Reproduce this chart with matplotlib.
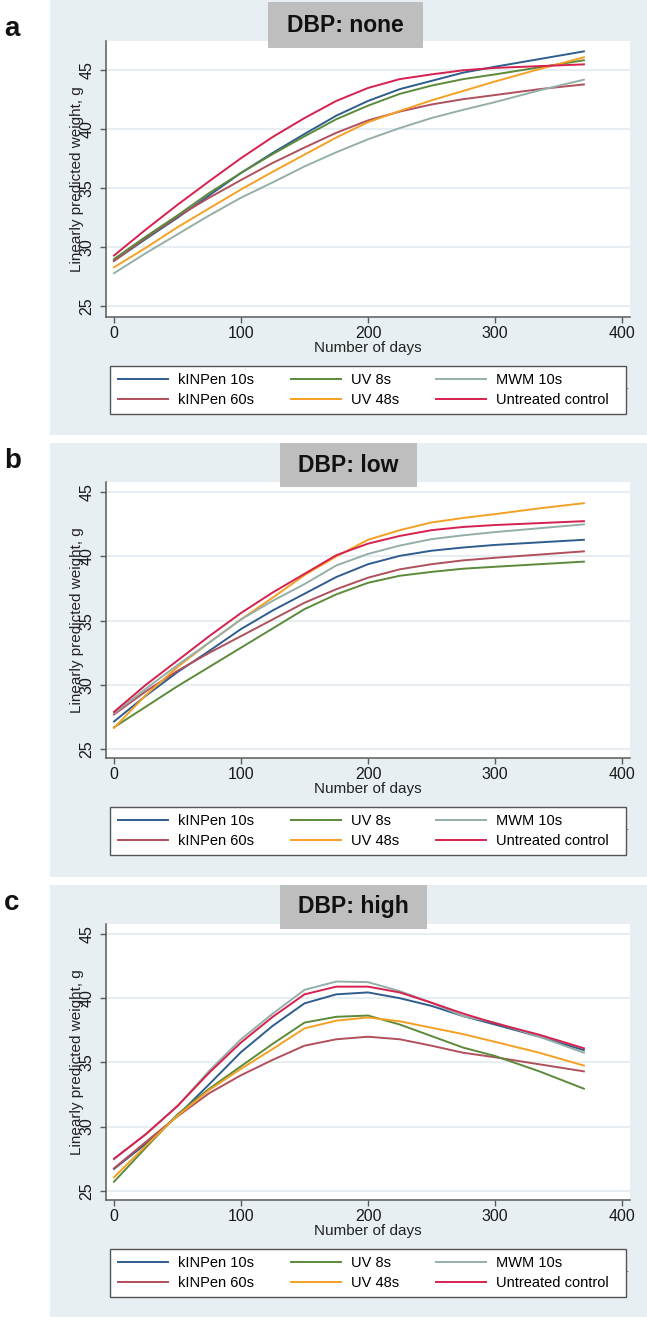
import matplotlib
matplotlib.use('Agg')
import matplotlib.pyplot as plt
from matplotlib.patches import Rectangle

plt.rcParams['font.family'] = ['Liberation Sans', 'DejaVu Sans']

# ---- data (days vs linearly predicted weight, g) ----
days = [0, 25, 50, 75, 100, 125, 150, 175, 200, 225, 250, 275, 300, 335, 370]
groups = ['kINPen 10s', 'kINPen 60s', 'UV 8s', 'UV 48s', 'MWM 10s', 'Untreated control']
colors = ['#2F5D8E', '#B0505C', '#5C8A3A', '#F4A024', '#93AFA8', '#D6204E']

# DBP: none
none_kinpen10 = [28.85, 30.7, 32.5, 34.4, 36.3, 38.0, 39.6, 41.15, 42.4, 43.4, 44.1, 44.8, 45.3, 45.95, 46.6]
none_kinpen60 = [28.85, 30.8, 32.6, 34.2, 35.7, 37.15, 38.45, 39.7, 40.75, 41.5, 42.1, 42.55, 42.9, 43.4, 43.8]
none_uv8 = [29.0, 30.9, 32.7, 34.6, 36.3, 37.9, 39.4, 40.85, 42.0, 43.0, 43.7, 44.25, 44.65, 45.25, 45.85]
none_uv48 = [28.3, 29.95, 31.7, 33.3, 34.9, 36.4, 37.85, 39.3, 40.6, 41.55, 42.45, 43.25, 44.05, 45.1, 46.1]
none_mwm10 = [27.8, 29.5, 31.1, 32.7, 34.2, 35.5, 36.85, 38.05, 39.15, 40.1, 40.95, 41.65, 42.3, 43.3, 44.2]
none_control = [29.3, 31.5, 33.6, 35.6, 37.55, 39.35, 40.95, 42.4, 43.5, 44.25, 44.65, 45.0, 45.2, 45.35, 45.5]

# DBP: low
low_kinpen10 = [27.15, 29.15, 31.0, 32.65, 34.35, 35.8, 37.1, 38.4, 39.4, 40.05, 40.45, 40.7, 40.9, 41.1, 41.3]
low_kinpen60 = [27.7, 29.5, 31.1, 32.5, 33.8, 35.1, 36.4, 37.45, 38.35, 39.0, 39.4, 39.7, 39.9, 40.15, 40.4]
low_uv8 = [26.7, 28.3, 29.9, 31.4, 32.9, 34.4, 35.9, 37.05, 37.95, 38.5, 38.8, 39.05, 39.2, 39.4, 39.6]
low_uv48 = [26.65, 29.2, 31.4, 33.3, 35.1, 36.8, 38.55, 40.0, 41.3, 42.05, 42.65, 43.0, 43.3, 43.75, 44.15]
low_mwm10 = [27.8, 29.7, 31.55, 33.3, 35.1, 36.55, 37.85, 39.3, 40.2, 40.85, 41.35, 41.65, 41.9, 42.2, 42.5]
low_control = [27.9, 30.0, 31.9, 33.8, 35.6, 37.2, 38.65, 40.1, 41.0, 41.6, 42.05, 42.3, 42.45, 42.6, 42.75]

# DBP: high
high_kinpen10 = [26.7, 28.65, 30.85, 33.3, 35.8, 37.85, 39.6, 40.3, 40.45, 40.0, 39.4, 38.6, 37.95, 37.0, 35.95]
high_kinpen60 = [26.75, 28.8, 30.8, 32.6, 34.0, 35.2, 36.3, 36.8, 37.0, 36.8, 36.3, 35.75, 35.4, 34.85, 34.3]
high_uv8 = [25.7, 28.35, 30.95, 32.95, 34.7, 36.45, 38.1, 38.55, 38.65, 37.95, 37.05, 36.15, 35.5, 34.3, 32.95]
high_uv48 = [26.05, 28.5, 30.85, 32.85, 34.5, 36.05, 37.65, 38.25, 38.5, 38.2, 37.7, 37.2, 36.6, 35.75, 34.75]
high_mwm10 = [27.45, 29.4, 31.6, 34.35, 36.8, 38.8, 40.65, 41.3, 41.25, 40.55, 39.65, 38.6, 38.1, 37.0, 35.75]
high_control = [27.5, 29.4, 31.6, 34.2, 36.55, 38.55, 40.3, 40.9, 40.9, 40.45, 39.65, 38.8, 38.05, 37.15, 36.1]

titles = ['DBP: none', 'DBP: low', 'DBP: high']
letters = ['a', 'b', 'c']
series = [
    [none_kinpen10, none_kinpen60, none_uv8, none_uv48, none_mwm10, none_control],
    [low_kinpen10, low_kinpen60, low_uv8, low_uv48, low_mwm10, low_control],
    [high_kinpen10, high_kinpen60, high_uv8, high_uv48, high_mwm10, high_control],
]

# ---- layout in pixels of the 647 x 1319 picture ----
W, H = 647, 1319
BG = '#E8EFF2'
# bg top/bottom, axes top/bottom, ylim, title box (x0, x1, y0, y1), letter y
layout = [
    dict(bg=(0, 435), ax=(41, 317), ylim=(24.09, 47.48), tbox=(268, 423, 2, 48), ly=29),
    dict(bg=(443, 877), ax=(482, 758), ylim=(24.31, 45.8), tbox=(280, 417, 443, 487), ly=461),
    dict(bg=(885, 1317), ax=(924, 1200), ylim=(24.28, 45.78), tbox=(280, 427, 885, 929), ly=903),
]
AX_L, AX_R = 106, 630


def fx(x):
    return x / W


def fy(y):
    return 1 - y / H


fig = plt.figure(figsize=(W / 100, H / 100), dpi=100)
fig.patch.set_facecolor('white')

for i, lay in enumerate(layout):
    bt, bb = lay['bg']
    fig.patches.append(Rectangle((fx(50), fy(bb)), fx(W) - fx(50), fy(bt) - fy(bb),
                                 transform=fig.transFigure, facecolor=BG, edgecolor='none', zorder=-2))

    at, ab = lay['ax']
    ax = fig.add_axes([fx(AX_L), fy(ab), fx(AX_R) - fx(AX_L), fy(at) - fy(ab)])
    ax.set_facecolor('white')
    for vals, c, g in zip(series[i], colors, groups):
        ax.plot(days, vals, color=c, lw=1.4, label=g)

    ax.set_xlim(-6.3, 406.3)
    ax.set_ylim(*lay['ylim'])
    ax.set_xticks([0, 100, 200, 300, 400])
    ax.set_yticks([25, 30, 35, 40, 45])
    ax.yaxis.grid(True, color='#E6EEF1', lw=1.4)
    ax.set_axisbelow(True)
    for s in ['top', 'right']:
        ax.spines[s].set_visible(False)
    for s in ['left', 'bottom']:
        ax.spines[s].set_color('#5a5a5a')
        ax.spines[s].set_linewidth(1.1)
    ax.tick_params(axis='both', colors='#5a5a5a', labelcolor='#1a1a1a', length=4, width=1.0, labelsize=11.5)
    ax.tick_params(axis='x', pad=2.5)
    ax.tick_params(axis='y', pad=4.5, labelrotation=90)
    for lbl in ax.get_yticklabels():
        lbl.set_va('center')

    # y title sits over the tick labels, as in the reference
    fig.text(fx(76.5), fy((at + ab) / 2), 'Linearly predicted weight, g', rotation=90,
             ha='center', va='center', fontsize=11, color='#222222')
    fig.text(fx(368), fy(ab + 31), 'Number of days', ha='center', va='center',
             fontsize=11, color='#222222')

    # title box
    x0, x1, y0, y1 = lay['tbox']
    fig.patches.append(Rectangle((fx(x0), fy(y1)), fx(x1) - fx(x0), fy(y0) - fy(y1),
                                 transform=fig.transFigure, facecolor='#BEBEBE', edgecolor='none', zorder=5))
    fig.text(fx((x0 + x1) / 2), fy((y0 + y1) / 2), titles[i], ha='center', va='center',
             fontsize=16.5, fontweight='bold', color='#111111', zorder=6)

    fig.text(fx(4), fy(lay['ly']), letters[i], ha='left', va='center', fontsize=20,
             fontweight='bold', color='#111111')

    # legend frame and three two-row columns
    lt = ab + 49
    fig.patches.append(Rectangle((fx(110), fy(lt + 48)), fx(626) - fx(110), fy(lt) - fy(lt + 48),
                                 transform=fig.transFigure, facecolor='white', edgecolor='#555555',
                                 lw=1.0, zorder=3))
    handles = ax.get_lines()
    col_x = [118, 291, 436]
    for k in range(3):
        hs = [handles[2 * k], handles[2 * k + 1]]
        fig.legend(hs, [h.get_label() for h in hs], loc='upper left',
                   bbox_to_anchor=(fx(col_x[k]), fy(lt + 7)), bbox_transform=fig.transFigure,
                   frameon=False, fontsize=10.5, handlelength=3.42, handletextpad=0.68,
                   labelspacing=0.4, borderpad=0, borderaxespad=0)
    fig.text(fx(628), fy(lt + 20), '.', ha='center', va='center', fontsize=9, color='#555555')

fig.savefig('out.png', dpi=100, facecolor='white')
